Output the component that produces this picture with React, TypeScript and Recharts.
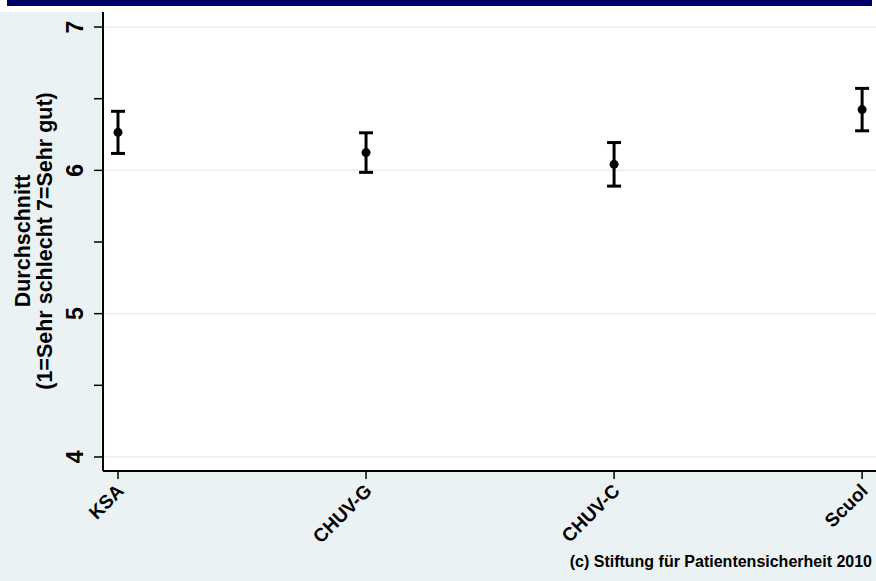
import { ComposedChart, Scatter, ErrorBar, XAxis, YAxis, CartesianGrid, ReferenceLine } from "recharts";

const categories = ["KSA", "CHUV-G", "CHUV-C", "Scuol"];
const means = [6.265, 6.124, 6.042, 6.424];
const errors = [0.147, 0.138, 0.152, 0.148];
const yTicks = [4, 4.5, 5, 5.5, 6, 6.5, 7];
const gridValues = [4, 5, 6, 7];

const data = categories.map((name, i) => ({ x: i + 1, name, mean: means[i], err: errors[i] }));

const FONT = "'Liberation Sans', Arial, Helvetica, sans-serif";
const BG = "#eaf2f3";

function YTick(props: any) {
  const { x, y, payload } = props;
  if (!Number.isInteger(payload.value)) return null;
  const tx = x - 9;
  return (
    <text x={tx} y={y} transform={`rotate(-90 ${tx} ${y})`} textAnchor="middle" fontFamily={FONT} fontWeight="bold" fontSize={23} fill="#000">
      {payload.value}
    </text>
  );
}

function XTick(props: any) {
  const { x, y, payload } = props;
  const tx = x + 7;
  const ty = y + 11;
  return (
    <text x={tx} y={ty} transform={`rotate(-45 ${tx} ${ty})`} textAnchor="end" fontFamily={FONT} fontWeight="bold" fontSize={19} fill="#000">
      {categories[payload.value - 1]}
    </text>
  );
}

function Dot(props: any) {
  return <circle cx={props.cx} cy={props.cy} r={4.5} fill="#000" />;
}

function YTitle() {
  return (
    <g fontFamily={FONT} fontWeight="bold" fontSize={21.5} fill="#000">
      <text x={30} y={241} transform="rotate(-90 30 241)" textAnchor="middle">Durchschnitt</text>
      <text x={52} y={241} transform="rotate(-90 52 241)" textAnchor="middle">(1=Sehr schlecht 7=Sehr gut)</text>
    </g>
  );
}

export default function App() {
  return (
    <div style={{ position: "relative", width: 876, height: 581, background: "#fff", overflow: "hidden" }}>
      <style>{"body{margin:0}"}</style>
      <div style={{ position: "absolute", left: 7, top: 0, width: 865, height: 6, background: "#000066" }} />
      <div style={{ position: "absolute", left: 0, top: 12, width: 876, height: 569, background: BG }} />
      <div style={{ position: "absolute", left: 0, top: 0 }}>
        <ComposedChart width={876} height={581} data={data} margin={{ top: 12, right: 0, bottom: 30, left: 0 }}>
          <CartesianGrid fill="#ffffff" fillOpacity={1} horizontal={false} vertical={false} />
          {gridValues.map((v) => (
            <ReferenceLine key={v} y={v} stroke={BG} strokeWidth={2} />
          ))}
          <XAxis
            type="number"
            dataKey="x"
            domain={[0.9395, 4.056]}
            ticks={[1, 2, 3, 4]}
            allowDataOverflow
            height={80}
            tickSize={8}
            tick={<XTick />}
            axisLine={{ stroke: "#000", strokeWidth: 2 }}
            tickLine={{ stroke: "#000", strokeWidth: 1.5 }}
          />
          <YAxis
            type="number"
            dataKey="mean"
            domain={[3.902, 7.105]}
            ticks={yTicks}
            allowDataOverflow
            width={103}
            tickSize={9}
            tick={<YTick />}
            axisLine={{ stroke: "#000", strokeWidth: 2 }}
            tickLine={{ stroke: "#000", strokeWidth: 1.5 }}
            label={{ content: () => <YTitle /> }}
          />
          <Scatter data={data} shape={<Dot />} isAnimationActive={false}>
            <ErrorBar dataKey="err" direction="y" width={7} stroke="#000" strokeWidth={3} />
          </Scatter>
        </ComposedChart>
      </div>
      <div
        style={{
          position: "absolute",
          right: 4,
          top: 553,
          fontFamily: FONT,
          fontWeight: "bold",
          fontSize: 16,
          color: "#000",
          whiteSpace: "nowrap",
        }}
      >
        (c) Stiftung für Patientensicherheit 2010
      </div>
    </div>
  );
}
